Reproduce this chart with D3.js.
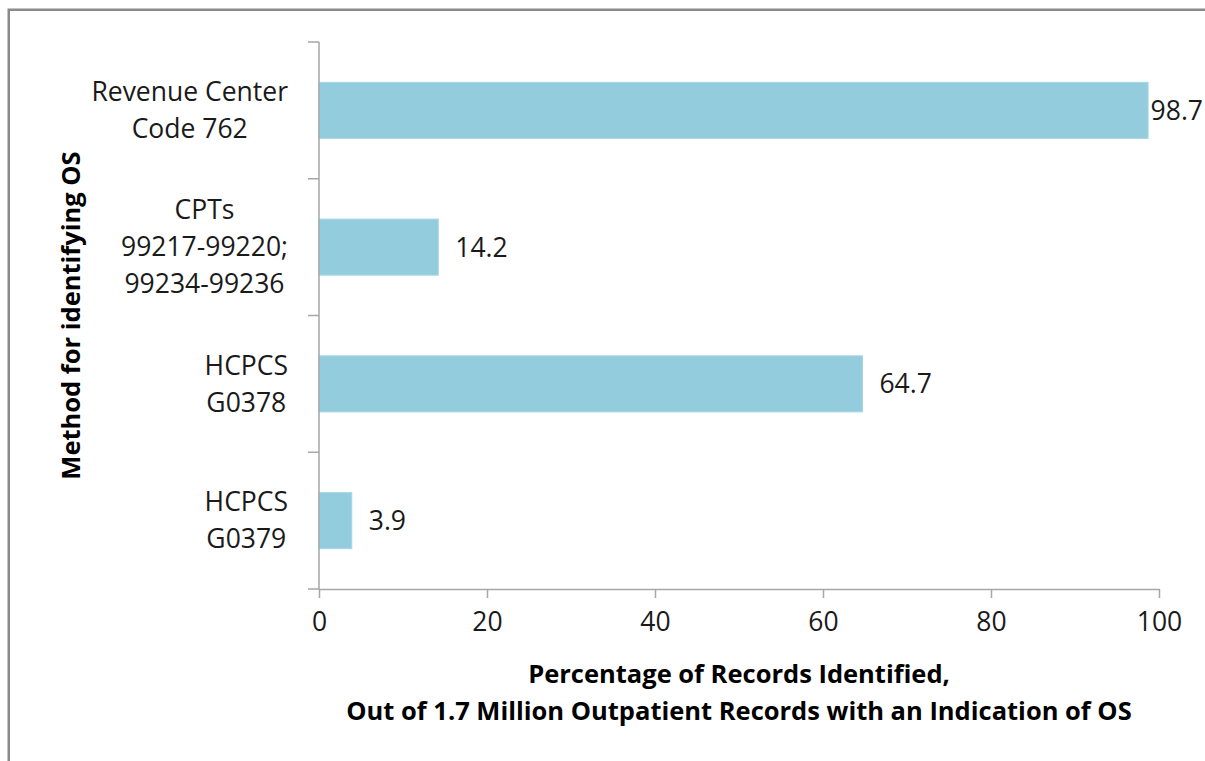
<!DOCTYPE html>
<html>
<head>
<meta charset="utf-8">
<script src="https://cdn.jsdelivr.net/npm/d3@7"></script>
<style>
  html, body { margin: 0; padding: 0; background: white; }
  svg { display: block; }
</style>
</head>
<body>
<div id="chart"></div>
<script>
// data
let categories = [
	['Revenue Center', 'Code 762'],
	['CPTs', '99217-99220;', '99234-99236'],
	['HCPCS', 'G0378'],
	['HCPCS', 'G0379']
];
let values = [98.7, 14.2, 64.7, 3.9];
let xTicks = [0, 20, 40, 60, 80, 100];
let xTitle = ['Percentage of Records Identified,', 'Out of 1.7 Million Outpatient Records with an Indication of OS'];
let yTitle = 'Method for identifying OS';

function barchart(selector) {

	let width = 1205,
	height = 761,
	margin = {
		top: 42,
		bottom: 172,
		left: 319,
		right: 46
	},
	innerW = width - margin.left - margin.right,
	innerH = height - margin.top - margin.bottom,
	font = '"Open Sans", Lato, sans-serif',
	fs = '26.5px',
	fsBold = '25.5px',
	axisColor = '#a6a6a6';

	let svg = d3.select(selector)
		.append('svg')
			.attr('width', width)
			.attr('height', height)
			.style('background', 'white');

	// outer frame, cut off at right and bottom like the original
	svg.append('rect')
		.attr('x', 8.75)
		.attr('y', 9.75)
		.attr('width', width + 20)
		.attr('height', height + 20)
		.attr('fill', 'none')
		.attr('stroke', '#8a8a8a')
		.attr('stroke-width', 2.5);

	let g = svg.append('g')
		.attr('transform', 'translate(' + margin.left + ',' + margin.top + ')');

	let x = d3.scaleLinear()
		.domain([0, 100])
		.range([0, innerW]);

	let y = d3.scaleBand()
		.domain(d3.range(categories.length))
		.range([0, innerH])
		.paddingInner(0.59)
		.paddingOuter(0.295);

	// bars
	g.selectAll('rect.bar')
		.data(values)
		.enter()
		.append('rect')
			.attr('class', 'bar')
			.attr('x', x(0))
			.attr('y', (d, i) => y(i))
			.attr('width', d => x(d) - x(0))
			.attr('height', y.bandwidth())
			.attr('fill', '#93cddd')
			.attr('stroke', '#a6d6e3')
			.attr('stroke-width', 1);

	// value labels, pulled back inside when they would run off the frame
	g.selectAll('text.val')
		.data(values)
		.enter()
		.append('text')
			.attr('class', 'val')
			.attr('y', (d, i) => y(i) + y.bandwidth() / 2)
			.attr('dy', '0.36em')
			.style('font-family', font)
			.style('font-size', fs)
			.style('fill', '#1a1a1a')
			.text(d => d)
			.attr('x', function(d) {
				let w = this.getComputedTextLength();
				return Math.min(x(d) + 17, width - margin.left - w - 2);
			});

	// y axis: line with ticks at band edges
	let edges = d3.range(categories.length + 1).map(i => i * y.step());
	g.append('line')
		.attr('x1', 0).attr('x2', 0)
		.attr('y1', 0).attr('y2', innerH)
		.attr('stroke', axisColor)
		.attr('stroke-width', 1.5);
	g.selectAll('line.ytick')
		.data(edges)
		.enter()
		.append('line')
			.attr('class', 'ytick')
			.attr('x1', -11).attr('x2', 0)
			.attr('y1', d => d).attr('y2', d => d)
			.attr('stroke', axisColor)
			.attr('stroke-width', 1.5);

	// category labels, each block centred on its widest line
	let cats = g.selectAll('g.cat')
		.data(categories)
		.enter()
		.append('g')
			.attr('class', 'cat');
	cats.each(function(lines, i) {
		let cg = d3.select(this);
		let cy = y(i) + y.bandwidth() / 2;
		let lh = 37;
		let t = cg.selectAll('text')
			.data(lines)
			.enter()
			.append('text')
				.attr('y', (d, j) => cy + (j - (lines.length - 1) / 2) * lh)
				.attr('dy', '0.35em')
				.attr('text-anchor', 'middle')
				.style('font-family', font)
				.style('font-size', fs)
				.style('fill', '#1a1a1a')
				.text(d => d);
		let maxW = d3.max(t.nodes(), n => n.getComputedTextLength());
		t.attr('x', -31 - maxW / 2);
	});

	// x axis
	let xAxis = g.append('g')
		.attr('transform', 'translate(0,' + innerH + ')')
		.call(d3.axisBottom(x).tickValues(xTicks).tickSize(9).tickPadding(14).tickSizeOuter(0));
	xAxis.select('.domain')
		.attr('stroke', axisColor)
		.attr('stroke-width', 1.5);
	xAxis.selectAll('.tick line')
		.attr('stroke', axisColor)
		.attr('stroke-width', 1.5);
	xAxis.selectAll('.tick text')
		.style('font-family', font)
		.style('font-size', fs)
		.style('fill', '#1a1a1a');

	// axis titles
	svg.append('g')
		.selectAll('text')
		.data(xTitle)
		.enter()
		.append('text')
			.attr('x', margin.left + innerW / 2)
			.attr('y', (d, i) => 683 + i * 37)
			.attr('text-anchor', 'middle')
			.style('font-family', font)
			.style('font-size', fsBold)
			.style('font-weight', 'bold')
			.style('fill', '#000')
			.text(d => d);

	svg.append('text')
		.attr('transform', 'translate(80,' + (margin.top + innerH / 2) + ') rotate(-90)')
		.attr('text-anchor', 'middle')
		.style('font-family', font)
		.style('font-size', fsBold)
		.style('font-weight', 'bold')
		.style('fill', '#000')
		.text(yTitle);

	return svg;
}

barchart('#chart');
</script>
</body>
</html>
